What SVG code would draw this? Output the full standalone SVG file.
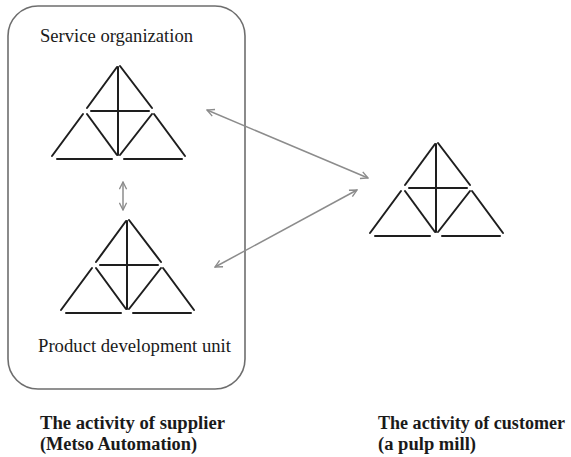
<svg xmlns="http://www.w3.org/2000/svg" xmlns:xlink="http://www.w3.org/1999/xlink" width="571" height="457" viewBox="0 0 571 457">
<style>
.tri line{stroke:#1e1e1e;stroke-width:2;stroke-linecap:round}
.conn line{stroke:#8c8c8c;stroke-width:1.5;fill:none}
.lbl{font-family:"Liberation Serif","Times New Roman",serif;font-size:18px;fill:#1a1a1a}
.bold{font-weight:bold}
.box{fill:none;stroke:#6e6e6e;stroke-width:1.6}
</style>
<defs>
<marker id="ah" viewBox="0 0 10 10" refX="9" refY="5" markerWidth="9" markerHeight="9" markerUnits="userSpaceOnUse" orient="auto-start-reverse">
<polyline points="1,1 9,5 1,9" fill="none" stroke="#8c8c8c" stroke-width="1.5"/>
</marker>
<g id="matches" class="tri">
<line x1="-1" y1="2" x2="-31" y2="43"/>
<line x1="2" y1="1" x2="34" y2="43"/>
<line x1="-27" y1="46" x2="31" y2="46"/>
<line x1="0" y1="2" x2="0" y2="90"/>
<line x1="-35" y1="49" x2="-66" y2="91"/>
<line x1="-31" y1="49" x2="-1" y2="90"/>
<line x1="34" y1="49" x2="2" y2="90"/>
<line x1="36" y1="49" x2="67" y2="91"/>
<line x1="-61" y1="94" x2="-6" y2="94"/>
<line x1="6" y1="94" x2="64" y2="94"/>
</g>
</defs>
<rect id="supplier-box" class="box" x="8" y="6" width="237" height="383" rx="30" ry="30"/>
<g id="service-organization">
<use xlink:href="#matches" href="#matches" transform="translate(118,65)"/>
<text class="lbl" x="40" y="42" textLength="153" lengthAdjust="spacingAndGlyphs">Service organization</text>
</g>
<g id="product-development-unit">
<use xlink:href="#matches" href="#matches" transform="translate(127,219)"/>
<text class="lbl" x="38" y="352" textLength="193" lengthAdjust="spacingAndGlyphs">Product development unit</text>
</g>
<g id="customer">
<use xlink:href="#matches" href="#matches" transform="translate(436,142)"/>
</g>
<g id="connectors" class="conn">
<line x1="207" y1="110" x2="368" y2="178" marker-start="url(#ah)" marker-end="url(#ah)"/>
<line x1="357" y1="190" x2="215" y2="267" marker-start="url(#ah)" marker-end="url(#ah)"/>
<line x1="123" y1="182" x2="123" y2="210" marker-start="url(#ah)" marker-end="url(#ah)"/>
</g>
<g id="supplier-label">
<text class="lbl bold" x="40" y="429" textLength="185" lengthAdjust="spacingAndGlyphs">The activity of supplier</text>
<text class="lbl bold" x="40" y="450" textLength="157" lengthAdjust="spacingAndGlyphs">(Metso Automation)</text>
</g>
<g id="customer-label">
<text class="lbl bold" x="378" y="429" textLength="187" lengthAdjust="spacingAndGlyphs">The activity of customer</text>
<text class="lbl bold" x="378" y="450" textLength="98" lengthAdjust="spacingAndGlyphs">(a pulp mill)</text>
</g>
</svg>
